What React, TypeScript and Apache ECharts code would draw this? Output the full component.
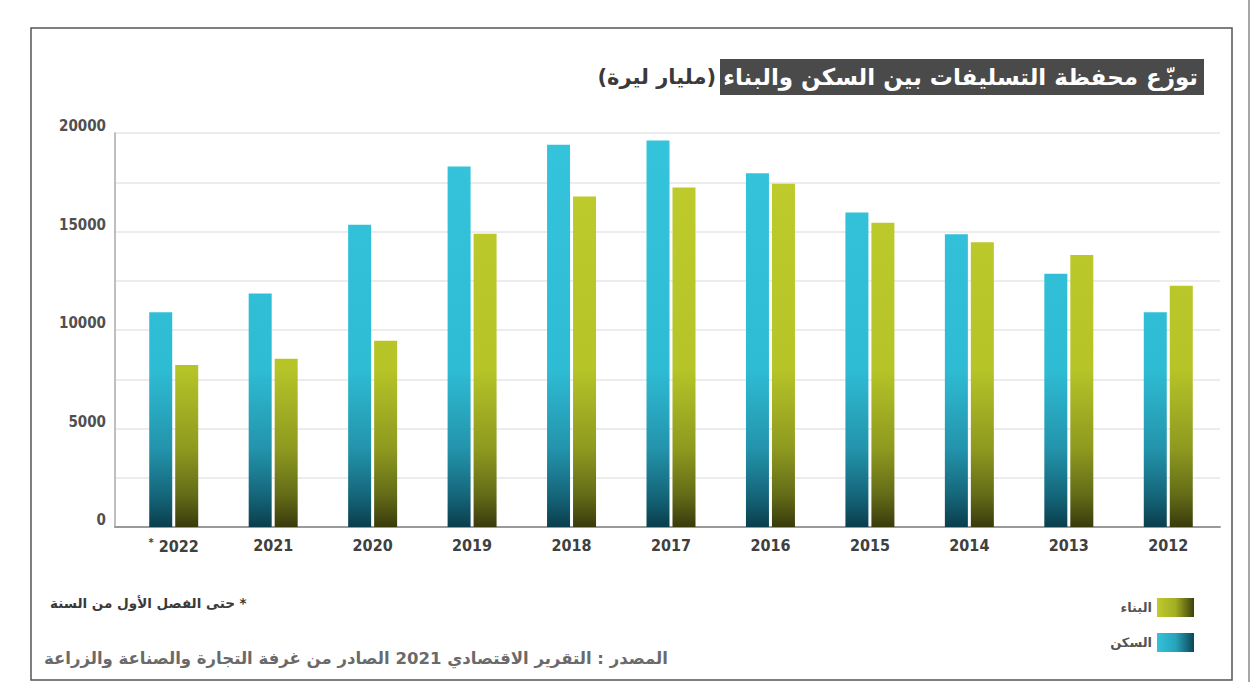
import React, { useEffect, useRef } from "react";
import * as echarts from "echarts";

const years = ["2022", "2021", "2020", "2019", "2018", "2017", "2016", "2015", "2014", "2013", "2012"];
const housing = [10900, 11850, 15340, 18300, 19400, 19620, 17960, 15960, 14860, 12850, 10900];
const construction = [8220, 8540, 9460, 14880, 16780, 17230, 17420, 15450, 14450, 13810, 12250];
const yLabelValues = [0, 5000, 10000, 15000, 20000];
const starredYears = ["2022"];

const housingName = "السكن";
const constructionName = "البناء";
const titleMain = "توزّع محفظة التسليفات بين السكن والبناء";
const titleUnit = "(مليار ليرة)";
const footnote = "حتى الفصل الأول من السنة *";
const source = "المصدر : التقرير الاقتصادي 2021 الصادر من غرفة التجارة والصناعة والزراعة";

const AR = '"DejaVu Sans", sans-serif';
const NUM = '"DejaVu Sans Condensed", "DejaVu Sans", sans-serif';

export default function App() {
  const ref = useRef<HTMLDivElement>(null);
  useEffect(() => {
    if (!ref.current) return;
    const chart = echarts.init(ref.current, null, { renderer: "svg" });
    const blueBar = new echarts.graphic.LinearGradient(0, 133, 0, 527, [
      { offset: 0, color: "#34c4dc" },
      { offset: 0.6, color: "#2ebcd4" },
      { offset: 0.8, color: "#2394ac" },
      { offset: 0.92, color: "#15667a" },
      { offset: 1, color: "#0a3e4d" },
    ], true);
    const greenBar = new echarts.graphic.LinearGradient(0, 133, 0, 527, [
      { offset: 0, color: "#c0cc2c" },
      { offset: 0.6, color: "#b6c428" },
      { offset: 0.8, color: "#8e9a1f" },
      { offset: 0.92, color: "#636b17" },
      { offset: 1, color: "#393b0c" },
    ], true);
    const blueLegend = new echarts.graphic.LinearGradient(0, 0, 1, 0, [
      { offset: 0, color: "#33c2da" },
      { offset: 0.5, color: "#27a4bc" },
      { offset: 1, color: "#0c4656" },
    ]);
    const greenLegend = new echarts.graphic.LinearGradient(0, 0, 1, 0, [
      { offset: 0, color: "#bfcb2c" },
      { offset: 0.5, color: "#a2ae24" },
      { offset: 1, color: "#3c3f0d" },
    ]);
    const option: any = {
      animation: false,
      backgroundColor: "#ffffff",
      grid: [
        { left: 115, right: 31, top: 133, bottom: 155 },
        { left: 124, right: 33, top: 133, bottom: 155 },
      ],
      xAxis: [
        {
          type: "category",
          gridIndex: 0,
          data: [""],
          axisLine: { show: true, lineStyle: { color: "#9a9a9a", width: 2 } },
          axisTick: { show: false },
          axisLabel: { show: false },
          splitLine: { show: false },
        },
        {
          type: "category",
          gridIndex: 1,
          data: years,
          axisLine: { show: false },
          axisTick: { show: false },
          axisLabel: {
            interval: 0,
            margin: 10,
            color: "#404040",
            fontFamily: NUM,
            fontWeight: "bold",
            fontSize: 16,
            formatter: (v: string) => (starredYears.includes(v) ? "{s|*} " + v : v),
            rich: {
              s: { fontSize: 11, color: "#404040", fontFamily: NUM, fontWeight: "bold", padding: [0, 0, 8, 0] },
            },
          },
        },
      ],
      yAxis: [
        {
          type: "value",
          gridIndex: 0,
          min: 0,
          max: 20000,
          interval: 2500,
          axisLine: { show: true, lineStyle: { color: "#a8a8a8", width: 1.5 } },
          axisTick: { show: false },
          splitLine: { show: true, lineStyle: { color: "#e6e6e6", width: 1.5 } },
          axisLabel: {
            margin: 9,
            color: "#505050",
            fontFamily: NUM,
            fontWeight: "bold",
            fontSize: 15,
            verticalAlign: "bottom",
            lineHeight: 14,
            formatter: (v: number) => (yLabelValues.includes(v) ? String(v) : ""),
          },
        },
        {
          type: "value",
          gridIndex: 1,
          min: 0,
          max: 20000,
          show: false,
          splitLine: { show: false },
        },
      ],
      legend: {
        orient: "vertical",
        right: 52,
        top: 593,
        align: "right",
        itemWidth: 37,
        itemHeight: 19,
        itemGap: 16,
        icon: "rect",
        textStyle: { fontFamily: AR, fontWeight: "bold", fontSize: 13, color: "#555555" },
        data: [
          { name: constructionName, itemStyle: { color: greenLegend } },
          { name: housingName, itemStyle: { color: blueLegend } },
        ],
      },
      series: [
        {
          name: housingName,
          type: "bar",
          xAxisIndex: 1,
          yAxisIndex: 1,
          data: housing,
          barWidth: 23,
          barGap: "13%",
          itemStyle: { color: blueBar },
        },
        {
          name: constructionName,
          type: "bar",
          xAxisIndex: 1,
          yAxisIndex: 1,
          data: construction,
          barWidth: 23,
          barGap: "13%",
          itemStyle: { color: greenBar },
        },
      ],
      graphic: [
        {
          type: "rect",
          shape: { x: 31, y: 28, width: 1201, height: 652 },
          style: { fill: "none", stroke: "#555555", lineWidth: 1.5 },
          silent: true,
        },
        {
          type: "line",
          shape: { x1: 1249, y1: 0, x2: 1249, y2: 682 },
          style: { stroke: "#888888", lineWidth: 1.5 },
          silent: true,
        },
        {
          type: "rect",
          shape: { x: 720, y: 59, width: 484, height: 36 },
          style: { fill: "#4a4a4a" },
          silent: true,
        },
        {
          type: "text",
          x: 1198,
          y: 77,
          style: {
            text: titleMain,
            fill: "#ffffff",
            fontFamily: AR,
            fontWeight: "bold",
            fontSize: 23,
            align: "right",
            verticalAlign: "middle",
            textAlign: "right",
            textVerticalAlign: "middle",
          },
          silent: true,
        },
        {
          type: "text",
          x: 716,
          y: 77,
          style: {
            text: titleUnit,
            fill: "#3a3a3a",
            fontFamily: AR,
            fontWeight: "bold",
            fontSize: 21,
            align: "right",
            verticalAlign: "middle",
            textAlign: "right",
            textVerticalAlign: "middle",
          },
          silent: true,
        },
        {
          type: "text",
          x: 50,
          y: 603,
          style: {
            text: footnote,
            fill: "#3a3a3a",
            fontFamily: AR,
            fontWeight: "bold",
            fontSize: 13.5,
            align: "left",
            verticalAlign: "middle",
            textAlign: "left",
            textVerticalAlign: "middle",
          },
          silent: true,
        },
        {
          type: "text",
          x: 44,
          y: 658,
          style: {
            text: source,
            fill: "#6a6a6a",
            fontFamily: AR,
            fontWeight: "bold",
            fontSize: 16.5,
            align: "left",
            verticalAlign: "middle",
            textAlign: "left",
            textVerticalAlign: "middle",
          },
          silent: true,
        },
      ],
    };
    chart.setOption(option);
    return () => chart.dispose();
  }, []);
  return (
    <div
      ref={ref}
      style={{ position: "absolute", left: 0, top: 0, width: 1251, height: 682, background: "#fff" }}
    />
  );
}
